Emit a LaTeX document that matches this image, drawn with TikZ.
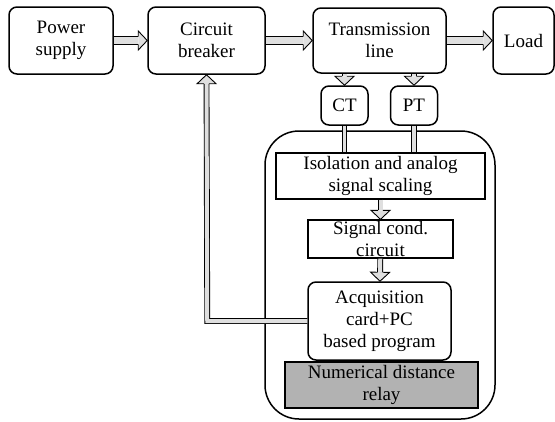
\documentclass[tikz,border=0pt]{standalone}
\usepackage{fontspec}
\setmainfont{Liberation Serif}
\usetikzlibrary{decorations.markings}
\tikzset{
  box/.style={draw,line width=1.5pt,rounded corners=8pt,align=center,inner sep=0pt,
    font=\fontsize{19}{22}\selectfont},
  sqbox/.style={box,rounded corners=0pt,line width=1.3pt},
  relaybox/.style={sqbox,fill=gray!60},
  % double shaft with a block head
  arr/.style={
    preaction={draw=black,line width=0.9pt,double=gray!25,double distance=#1,
      shorten >=9pt},
    postaction={decorate,decoration={markings,mark=at position 1 with {
      \draw[line width=0.9pt,fill=gray!25,line join=miter]
        (-9pt,0.5*#1+0.45pt) -- (-9pt,9.5pt) -- (0pt,0pt)
        -- (-9pt,-9.5pt) -- (-9pt,-0.5*#1-0.45pt);}}}},
  arr/.default=7pt,
  link/.style={draw=black,line width=0.9pt,double=gray!25,double distance=3.5pt}
}
\begin{document}
\begin{tikzpicture}[x=1pt,y=-1pt]
\useasboundingbox (0,0) rectangle (555,421);
\begin{scope}
\draw[line width=1.5pt,rounded corners=34pt] (265,131) rectangle (495,419);
\node[box,minimum width=104pt,minimum height=67pt] (ps) at (61,40.5) {Power\\supply};
\node[box,minimum width=117pt,minimum height=67pt] (cb) at (206.5,40.5) {Circuit\\breaker};
\node[box,minimum width=133pt,minimum height=65pt] (tl) at (379.5,40.5) {Transmission\\line};
\node[box,minimum width=61pt,minimum height=67pt] (load) at (523.5,40.5) {Load};
\node[box,minimum width=47pt,minimum height=39pt] (ct) at (344.5,105.5) {CT};
\node[box,minimum width=47pt,minimum height=39pt] (pt) at (414,105.5) {PT};
\node[sqbox,minimum width=209pt,minimum height=46pt] (iso) at (380.5,176) {Isolation and analog\\signal scaling};
\node[sqbox,minimum width=145pt,minimum height=38pt] (sig) at (380.5,239) {Signal cond.\\circuit};
\node[box,minimum width=143pt,minimum height=78pt] (acq) at (379.5,321) {Acquisition\\card+PC\\based program};
\node[relaybox,minimum width=193pt,minimum height=46pt] (relay) at (381.5,385) {Numerical distance\\relay};
\end{scope}
\begin{scope}
\path[arr] (ps) -- (cb);
\path[arr] (cb) -- (tl);
\path[arr] (tl) -- (load);
\path[arr=4pt] (ct.north |- tl.south) -- (ct.north);
\path[arr=4pt] (pt.north |- tl.south) -- (pt.north);
\draw[link] (ct.south) -- (ct.south |- iso.north);
\draw[link] (pt.south) -- (pt.south |- iso.north);
\path[arr=4pt] (iso) -- (sig);
\path[arr=4pt] (sig) -- (acq);
\path[arr=4pt] (acq.west) -- ++(-100pt,0) -- (cb.south);
\end{scope}
\end{tikzpicture}
\end{document}
